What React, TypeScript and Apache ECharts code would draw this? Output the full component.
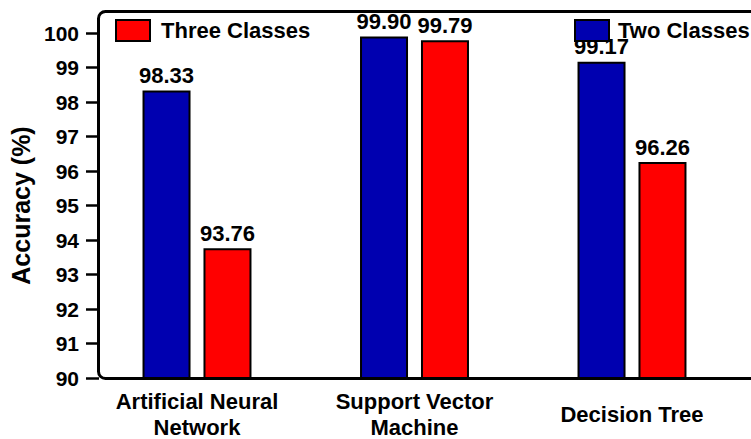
import React, { useEffect, useRef } from "react";
import * as echarts from "echarts";

const categories = ["Artificial Neural\nNetwork", "Support Vector\nMachine", "Decision Tree"];
const twoClasses = [98.33, 99.9, 99.17];
const threeClasses = [93.76, 99.79, 96.26];
const yTicks = { min: 90, max: 100, interval: 1 };

const FONT = "'Liberation Sans', Arial, sans-serif";

export default function App() {
  const ref = useRef<HTMLDivElement>(null);
  useEffect(() => {
    if (!ref.current) return;
    const chart = echarts.init(ref.current, null, { renderer: "svg" });
    const labelStyle = {
      show: true,
      position: "top" as const,
      distance: 4,
      fontSize: 22,
      fontWeight: "bold" as const,
      fontFamily: FONT,
      color: "#000",
      formatter: (p: any) => Number(p.value).toFixed(2),
    };
    const legendText = { fontSize: 22, fontWeight: "bold", color: "#000", fontFamily: FONT };
    chart.setOption({
      animation: false,
      backgroundColor: "#fff",
      textStyle: { fontFamily: FONT },
      grid: { left: 88.25, right: 10.25, top: 33, bottom: 61, outerBoundsMode: "none", containLabel: false },
      legend: [
        {
          data: ["Three Classes"],
          icon: "rect",
          left: 110,
          top: 14,
          itemWidth: 34,
          itemHeight: 21,
          textStyle: { ...legendText, padding: [0, 0, 0, 6] },
        },
        {
          data: ["Two Classes"],
          icon: "rect",
          left: 569,
          top: 14,
          itemWidth: 34,
          itemHeight: 21,
          textStyle: { ...legendText, padding: [0, 0, 0, 4] },
        },
      ],
      xAxis: {
        type: "category",
        data: categories,
        axisLine: { show: false },
        axisTick: { show: false },
        axisLabel: {
          margin: 36,
          verticalAlign: "middle",
          fontSize: 22,
          lineHeight: 26,
          fontWeight: "bold",
          fontFamily: FONT,
          color: "#000",
        },
      },
      yAxis: {
        type: "value",
        min: yTicks.min,
        max: yTicks.max,
        interval: yTicks.interval,
        offset: -10.75,
        name: "Accuracy (%)",
        nameLocation: "middle",
        nameGap: 65,
        nameTextStyle: { fontSize: 25, fontWeight: "bold", color: "#000", fontFamily: FONT },
        axisLine: { show: false },
        axisTick: { show: true, length: 13, lineStyle: { color: "#000", width: 2.5 } },
        splitLine: { show: false },
        axisLabel: { margin: 20, fontSize: 21, fontWeight: "bold", color: "#000", fontFamily: FONT },
      },
      series: [
        {
          name: "Two Classes",
          type: "bar",
          data: twoClasses,
          barWidth: 48,
          barGap: "27%",
          itemStyle: { color: "#0000B0", borderColor: "#000", borderWidth: 2 },
          label: labelStyle,
        },
        {
          name: "Three Classes",
          type: "bar",
          data: threeClasses,
          barWidth: 48,
          barGap: "27%",
          itemStyle: { color: "#FF0000", borderColor: "#000", borderWidth: 2 },
          label: labelStyle,
        },
      ],
      graphic: [
        {
          type: "rect",
          z: 100,
          shape: { x: 98.5, y: 11.5, width: 720, height: 367, r: 7 },
          style: { fill: "none", stroke: "#000", lineWidth: 3 },
        },
      ],
    });
    return () => chart.dispose();
  }, []);
  return (
    <div
      ref={ref}
      style={{ position: "fixed", left: 0, top: 0, width: 751, height: 439, background: "#fff" }}
    />
  );
}
